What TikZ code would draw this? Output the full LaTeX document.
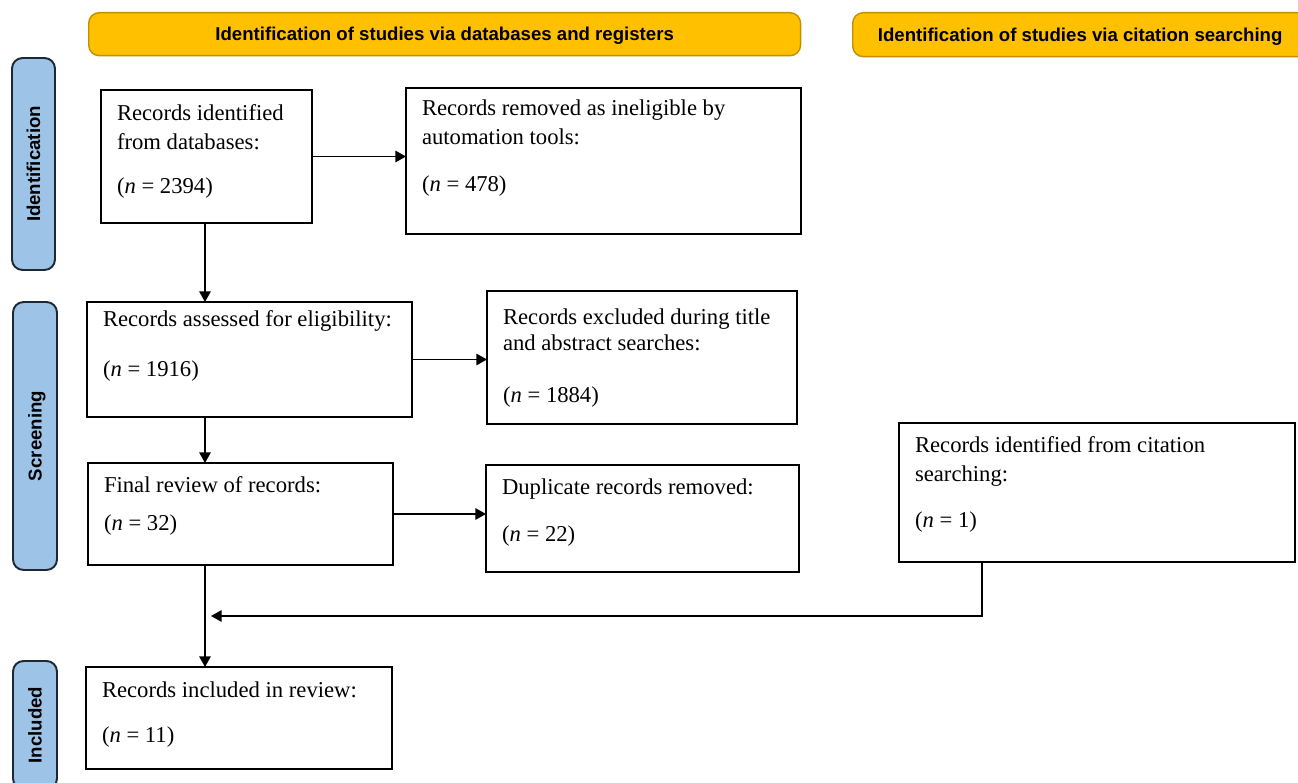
\documentclass[tikz,border=0pt]{standalone}
\usepackage{fontspec}
\setmainfont{Liberation Serif}
\newfontfamily\headfont{Liberation Sans}
\usepackage{xcolor}
\usetikzlibrary{arrows.meta,positioning}
\definecolor{prismagold}{RGB}{255, 192, 0}
\definecolor{prismagoldline}{RGB}{191, 144, 0}
\definecolor{phaseblue}{RGB}{157, 195, 230}
\definecolor{phaseline}{RGB}{30, 40, 52}
\newdimen\px \px=0.02cm
\newcommand{\recordtext}[4]{\begin{minipage}[t][#2\px][t]{#1\px}\raggedright\leftskip=16\px\rule{0pt}{#3\px}#4\end{minipage}}

\begin{document}
\begin{tikzpicture}[x=0.02cm, y=-0.02cm,
  headbar/.style={draw=prismagoldline, fill=prismagold, line width=0.8pt, rounded corners=6pt, anchor=north west, inner sep=0pt, text height=7.6pt, text depth=0pt, font=\headfont\bfseries\fontsize{10.6}{12}\selectfont},
  phasebar/.style={draw=phaseline, fill=phaseblue, line width=1.1pt, rounded corners=6pt, rotate=90, inner sep=0pt, text height=7.6pt, text depth=0pt, font=\headfont\bfseries\fontsize{10.6}{12}\selectfont},
  recbox/.style={draw, line width=1.1pt, anchor=north west, inner sep=0pt, outer sep=0pt, font=\fontsize{12.9}{16}\selectfont},
  flow/.style={line width=0.7pt, -{Triangle[length=6pt, width=6.5pt]}}]
\useasboundingbox (0,0) rectangle (1298,783);
\node[headbar, minimum width=14.24cm, minimum height=0.86cm] (dbhead) at (88,12) {Identification of studies via databases and registers};
\node[headbar, minimum width=9.1cm, minimum height=0.88cm] (citehead) at (852,12) {Identification of studies via citation searching};
\node[phasebar, minimum width=4.24cm, minimum height=0.86cm] (identphase) at (33.5,164) {Identification};
\node[phasebar, minimum width=5.36cm, minimum height=0.88cm] (screenphase) at (35,436) {Screening};
\node[phasebar, minimum width=2.56cm, minimum height=0.88cm] (inclphase) at (35,725) {Included};

\node[recbox] (dbrec) at (101,90) {\recordtext{211}{133}{31}{Records identified\\from databases:\\[9.5pt](\textit{n} = 2394)}};
\node[recbox] (removed) at (406,88) {\recordtext{395}{146}{28}{Records removed as ineligible by\\automation tools:\\[11pt](\textit{n} = 478)}};
\node[recbox] (assessed) at (87,302) {\recordtext{325}{115}{25}{Records assessed for eligibility:\\[12pt](\textit{n} = 1916)}};
\node[recbox] (excluded) at (487,291) {\recordtext{310}{133}{34}{Records excluded during title\\[-1.5pt]and abstract searches:\\[13.5pt](\textit{n} = 1884)}};
\node[recbox] (finalrev) at (88,463) {\recordtext{305}{102}{30}{Final review of records:\\[5.5pt](\textit{n} = 32)}};
\node[recbox] (duplicates) at (486,465) {\recordtext{313}{107}{30}{Duplicate records removed:\\[10.5pt](\textit{n} = 22)}};
\node[recbox] (citation) at (899,423) {\recordtext{396}{139}{30}{Records identified from citation\\searching:\\[10.5pt](\textit{n} = 1)}};
\node[recbox] (included) at (86,667) {\recordtext{306}{102}{30}{Records included in review:\\[10pt](\textit{n} = 11)}};

\coordinate (spine) at (205,0);
\coordinate (citecol) at (982,0);
\coordinate (merge) at (211,616);
\draw[flow] (dbrec.east) -- (dbrec.east -| removed.west);
\draw[flow] (dbrec.south -| spine) -- (assessed.north -| spine);
\draw[flow] (assessed.east) -- (assessed.east -| excluded.west);
\draw[flow] (assessed.south -| spine) -- (finalrev.north -| spine);
\draw[flow] (finalrev.east) -- (finalrev.east -| duplicates.west);
\draw[flow] (finalrev.south -| spine) -- (included.north -| spine);
\draw[flow] (citation.south -| citecol) |- (merge);
\end{tikzpicture}
\end{document}
